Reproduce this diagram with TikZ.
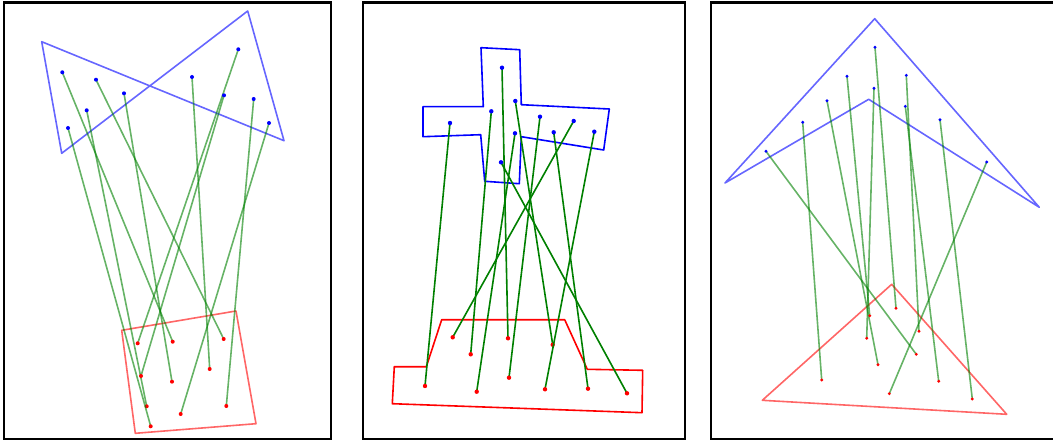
\documentclass[tikz,border=0pt]{standalone}
\usepackage{tikz}

\begin{document}
\begin{tikzpicture}[x=1pt,y=-1pt,
    panel/.style={draw=black,line width=2.2pt},
    src/.style={blue,line width=1.6pt,line join=round},
    dst/.style={red,line width=1.6pt,line join=round},
    match/.style={green!50!black,line width=1.6pt},
    faint/.style={opacity=0.6}]
    \useasboundingbox (0,0) rectangle (1053,441);
    \draw[panel] (4,2.5) rectangle (331,439); \draw[panel] (363,2.5) rectangle (685,439);
    \draw[panel] (711,2.5) rectangle (1058,439);
    % left panel
    \draw[src,faint] (41.7,41.7)--(284,140.7)--(247.7,11)--(61.7,153.3)--cycle;
    \draw[dst,faint] (121.7,330.3)--(236,311)--(256,423.7)--(135.3,433.3)--cycle;
    \foreach \i/\bx/\by/\rx/\ry in {1/62.3/72.3/172.7/341.7, 2/96/79.7/223.7/339,
        3/124/93.3/172/381.7, 4/86.7/110.3/146.7/406.3, 5/68/128/150.7/426.3,
        6/192/77/209.7/369, 7/238.3/49.3/137.7/343.3, 8/224/95.3/141/376,
        9/253.7/99/226.3/406, 10/269/123/180.7/414}
    {
        \coordinate (la\i) at (\bx,\by); \coordinate (lb\i) at (\rx,\ry);
        \draw[match,faint] (la\i)--(lb\i);
        \fill[blue] (la\i) circle (2); \fill[red] (lb\i) circle (2);
    }
    % middle panel
    \draw[src] (481,47.7)--(519.7,49.7)--(521.3,104.7)--(609.3,109)--(603.7,150)--(521.3,136.7)
        --(519.3,183.7)--(484.7,181.3)--(480.7,134.7)--(423,136.7)--(423,106.7)--(483.3,106.7)--cycle;
    \draw[dst] (441.7,319.7)--(564.7,319.7)--(587.3,369.3)--(642.7,370.3)--(642,412.7)
        --(392.3,403.7)--(394.3,366.7)--(426.3,366.7)--cycle;
    \foreach \i/\bx/\by/\rx/\ry in {1/450/123/425/386, 2/502/67.7/508/338.3,
        3/491.3/111.3/470.7/354.3, 4/515.3/101/552.7/344.7, 5/515/133.3/476.7/391.7,
        6/540/116.7/509/377.7, 7/573.7/121/452.7/337.3, 8/553.7/132.3/588/388.7,
        9/594.3/131.7/545/389.3, 10/501/162.3/627/393.3}
    {
        \coordinate (ma\i) at (\bx,\by); \coordinate (mb\i) at (\rx,\ry);
        \draw[match] (ma\i)--(mb\i);
        \fill[blue] (ma\i) circle (2.2); \fill[red] (mb\i) circle (2.2);
    }
    % right panel
    \draw[src,faint] (874.7,18.7)--(1039.3,207.3)--(868.7,99.3)--(725,183)--cycle;
    \draw[dst,faint] (891.7,284.3)--(1006.7,414.3)--(762.3,400.3)--cycle;
    \foreach \i/\bx/\by/\rx/\ry in {1/766/151.3/916.3/354.3, 2/802.7/122.3/821.7/380,
        3/827/100.7/878/364.7, 4/847/76.3/869.7/315.7, 5/874/88.3/866.7/338.3,
        6/875/47.3/896/308.3, 7/906.3/75.3/919/331.3, 8/905.3/106.3/938.7/381.3,
        9/940/119.7/972.3/399, 10/986.7/162/889.3/393.7}
    {
        \coordinate (ra\i) at (\bx,\by); \coordinate (rb\i) at (\rx,\ry);
        \draw[match,faint] (ra\i)--(rb\i);
        \fill[blue] (ra\i) circle (1.6); \fill[red] (rb\i) circle (1.6);
    }
\end{tikzpicture}
\end{document}
